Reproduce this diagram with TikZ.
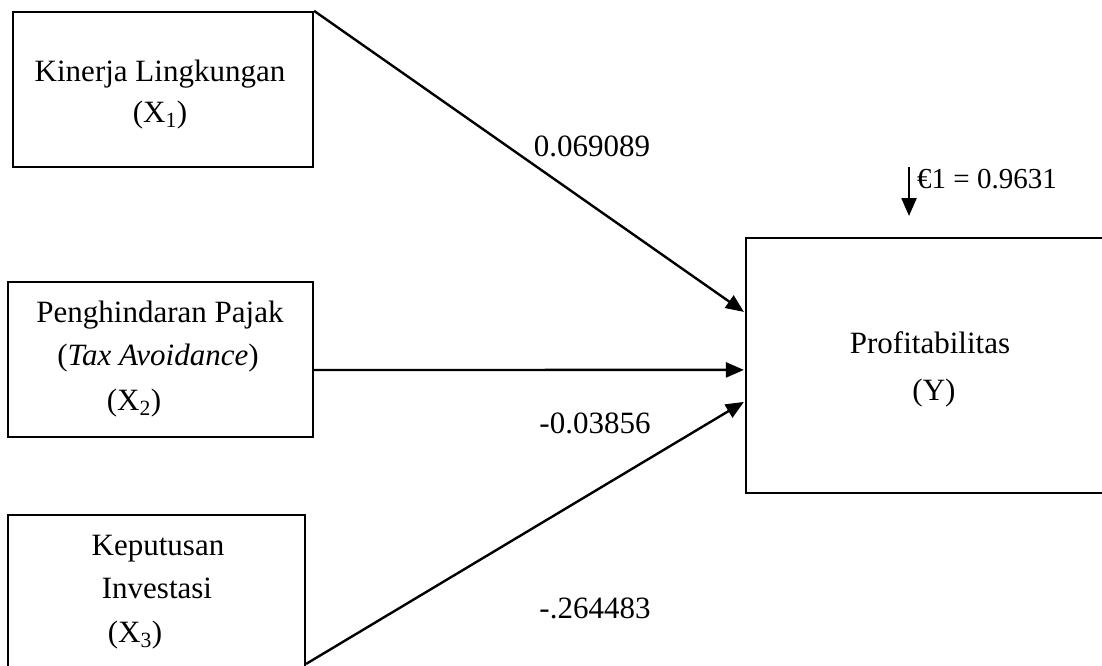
\documentclass[tikz,border=0pt]{standalone}
\usepackage{fontspec}
\setmainfont{Liberation Serif}
\usetikzlibrary{arrows.meta,calc}
\begin{document}
\begin{tikzpicture}[x=1pt,y=-1pt,
  box/.style={draw,line width=2.2pt,rectangle,inner sep=0pt},
  txt/.style={anchor=base,inner sep=0pt,font=\fontsize{31}{36}\selectfont},
  coef/.style={anchor=base,inner sep=0pt,font=\fontsize{31}{36}\selectfont},
  arr/.style={line width=2.4pt,-{Triangle[length=18pt,width=15pt]}}]
\clip (0,0) rectangle (1102,666);
\fill[white] (0,0) rectangle (1102,666);
% boxes
\node[box,minimum width=300pt,minimum height=155pt] (x1) at (163,89.5) {};
\node[box,minimum width=305pt,minimum height=155pt] (x2) at (160.5,359.5) {};
\node[box,minimum width=297pt,minimum height=170pt] (x3) at (156.5,600) {};
\node[box,minimum width=370pt,minimum height=255pt] (y) at (931,365.5) {};
% texts
\node[txt] (t1a) at (160,82) {Kinerja Lingkungan};
\node[txt] (t1b) at (160,122) {(X\textsubscript{1})};
\node[txt] (t2a) at (160,322) {Penghindaran Pajak};
\node[txt] (t2b) at (158,365) {(\textit{Tax Avoidance})};
\node[txt] (t2c) at (134,410) {(X\textsubscript{2})};
\node[txt] (t3a) at (158,555) {Keputusan};
\node[txt] (t3b) at (157,598) {Investasi};
\node[txt] (t3c) at (135,642) {(X\textsubscript{3})};
\node[txt] (ty1) at (930,353) {Profitabilitas};
\node[txt] (ty2) at (934,400) {(Y)};
% arrow ends on Y
\coordinate (e1) at ($(y.north west)+(-1,75)$);
\coordinate (e2) at ($(y.north west)+(-1,133)$);
\coordinate (e3) at ($(y.north west)+(-1,165)$);
\coordinate (s2) at ($(x2.east)+(0,10.5)$);
\coordinate (s3) at ($(x3.north east)+(0,150)$);
\draw[arr] (x1.north east) -- (e1);
\draw[arr] (s2) -- (e2);
\draw[arr] (s3) -- (e3);
% coefficients
\node[coef] (c1) at (592,157) {0.069089};
\node[coef] (c2) at (595,433) {-0.03856};
\node[coef] (c3) at (595,618) {-.264483};
% error term
\coordinate (eps0) at (909,167);
\coordinate (eps1) at (909,216);
\draw[arr] (eps0) -- (eps1);
\node[anchor=base west,inner sep=0pt,font=\fontsize{29}{34}\selectfont] (el) at (917,188) {€1 = 0.9631};
\end{tikzpicture}
\end{document}
